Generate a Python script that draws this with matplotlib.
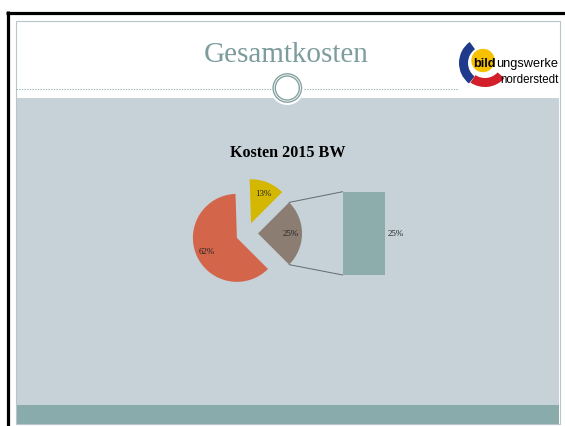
import matplotlib
matplotlib.use("Agg")
import matplotlib.pyplot as plt
import numpy as np
from matplotlib.patches import Rectangle, Circle, Wedge, ConnectionPatch

# data
pie_labels = ["Rest", "Posten B", "Posten A"]
pie_shares = [25, 13, 62]
bar_labels = ["Rest"]
bar_shares = [25]

W, H = 565, 427
RED = "#d3654b"
YELLOW = "#d4b700"
TAUPE = "#8c7d72"
TEAL = "#8dadad"
CONTENT = "#c6d2d8"
TITLE_GREY = "#7d9c9c"

fig = plt.figure(figsize=(W / 100, H / 100), dpi=100)
fig.patch.set_facecolor("white")

# slide decoration in pixel coordinates (y downwards)
deco = fig.add_axes([0, 0, 1, 1])
deco.set_xlim(0, W)
deco.set_ylim(H, 0)
deco.axis("off")

deco.add_patch(Rectangle((16, 98.5), 543, 308, facecolor=CONTENT, edgecolor="none"))
deco.add_patch(Rectangle((16, 406), 543, 18.5, facecolor="#8aabab", edgecolor="none"))
deco.add_patch(Rectangle((15.5, 21.5), 544, 403.5, facecolor="none",
                         edgecolor="#b7c6ca", lw=0.8))
deco.plot([7.5, 7.5], [12, H], color="black", lw=2.3, solid_capstyle="butt")
deco.plot([6, W], [13.5, 13.5], color="black", lw=2.3, solid_capstyle="butt")

# dotted rule with the ring ornament
deco.plot([16, 271], [89.5, 89.5], color="#9db2b2", lw=0.8, ls=(0, (1.2, 1.2)))
deco.plot([304, 458], [89.5, 89.5], color="#9db2b2", lw=0.8, ls=(0, (1.2, 1.2)))
deco.add_patch(Circle((287.3, 89), 17, facecolor="white", edgecolor="none"))
deco.add_patch(Circle((287.3, 89), 14.2, facecolor="none", edgecolor="#86a2a2", lw=1.0))
deco.add_patch(Circle((287.3, 89), 12.0, facecolor="none", edgecolor="#86a2a2", lw=1.0))

deco.text(286, 55.5, "Gesamtkosten", ha="center", va="center", fontsize=21,
          family="Liberation Serif", color=TITLE_GREY)

# logo
deco.add_patch(Wedge((485, 64), 26, -232, -126, width=9, facecolor="#1f3a8a", edgecolor="none"))
deco.add_patch(Wedge((485, 62), 26, -318, -236, width=9, facecolor="#d21f2a", edgecolor="none"))
deco.add_patch(Circle((483, 61.5), 11.7, facecolor="#f6c200", edgecolor="none"))
t1 = deco.text(473.5, 70, "bild", ha="left", va="bottom", fontsize=9.2,
               family="Liberation Sans", weight="bold", color="black")
deco.annotate("ungswerke", xy=(1, 0), xycoords=t1, ha="left", va="bottom",
              fontsize=9.2, family="Liberation Sans", color="black")
deco.text(558.5, 83, "norderstedt", ha="right", va="baseline", fontsize=8.3,
          family="Liberation Sans", color="black")

# chart title
fig.text(288 / W, 1 - 153 / H, "Kosten 2015 BW", ha="center", va="center",
         fontsize=11.6, weight="bold", family="Liberation Serif", color="black")

# pie: true centre at (247, 234.5) px, radius 44 px
r_px = 44
cx, cy = 247, 234.5
span = 3 * r_px
pie_ax = fig.add_axes([(cx - span / 2) / W, (H - cy - span / 2) / H, span / W, span / H])
wedges, texts, autotexts = pie_ax.pie(
    pie_shares, colors=[TAUPE, YELLOW, RED], startangle=-45, counterclock=True,
    explode=[0.25] * len(pie_shares), autopct=lambda p: f"{p:.0f}%",
    pctdistance=0.75, textprops=dict(fontsize=6.5, family="Liberation Serif", color="#222222"),
    wedgeprops=dict(linewidth=0))
pie_ax.set_xlim(-1.5, 1.5)
pie_ax.set_ylim(-1.5, 1.5)
pie_ax.axis("off")

# bar of the "other" share
bx0, bx1, by0, by1 = 342.7, 384.7, 192.7, 276
bar_ax = fig.add_axes([bx0 / W, (H - by1) / H, (bx1 - bx0) / W, (by1 - by0) / H])
bar_ax.bar([0], bar_shares, width=1, color=TEAL, linewidth=0)
bar_ax.set_xlim(-0.5, 0.5)
bar_ax.set_ylim(0, sum(bar_shares))
bar_ax.axis("off")
bottom = 0
for v in bar_shares:
    bar_ax.text(0.77, bottom + v / 2, f"{v}%", ha="center", va="center",
                fontsize=6.5, family="Liberation Serif", color="#222222", clip_on=False)
    bottom += v

# connector lines from the split wedge to the bar
w = wedges[0]
for ang, yb in [(w.theta2, sum(bar_shares)), (w.theta1, 0)]:
    a = np.deg2rad(ang)
    p = (w.center[0] + w.r * np.cos(a), w.center[1] + w.r * np.sin(a))
    con = ConnectionPatch(xyA=p, coordsA=pie_ax.transData, xyB=(-0.5, yb),
                          coordsB=bar_ax.transData, color="#5f6b6e", lw=0.7)
    fig.add_artist(con)

fig.savefig("out.png", dpi=100)
